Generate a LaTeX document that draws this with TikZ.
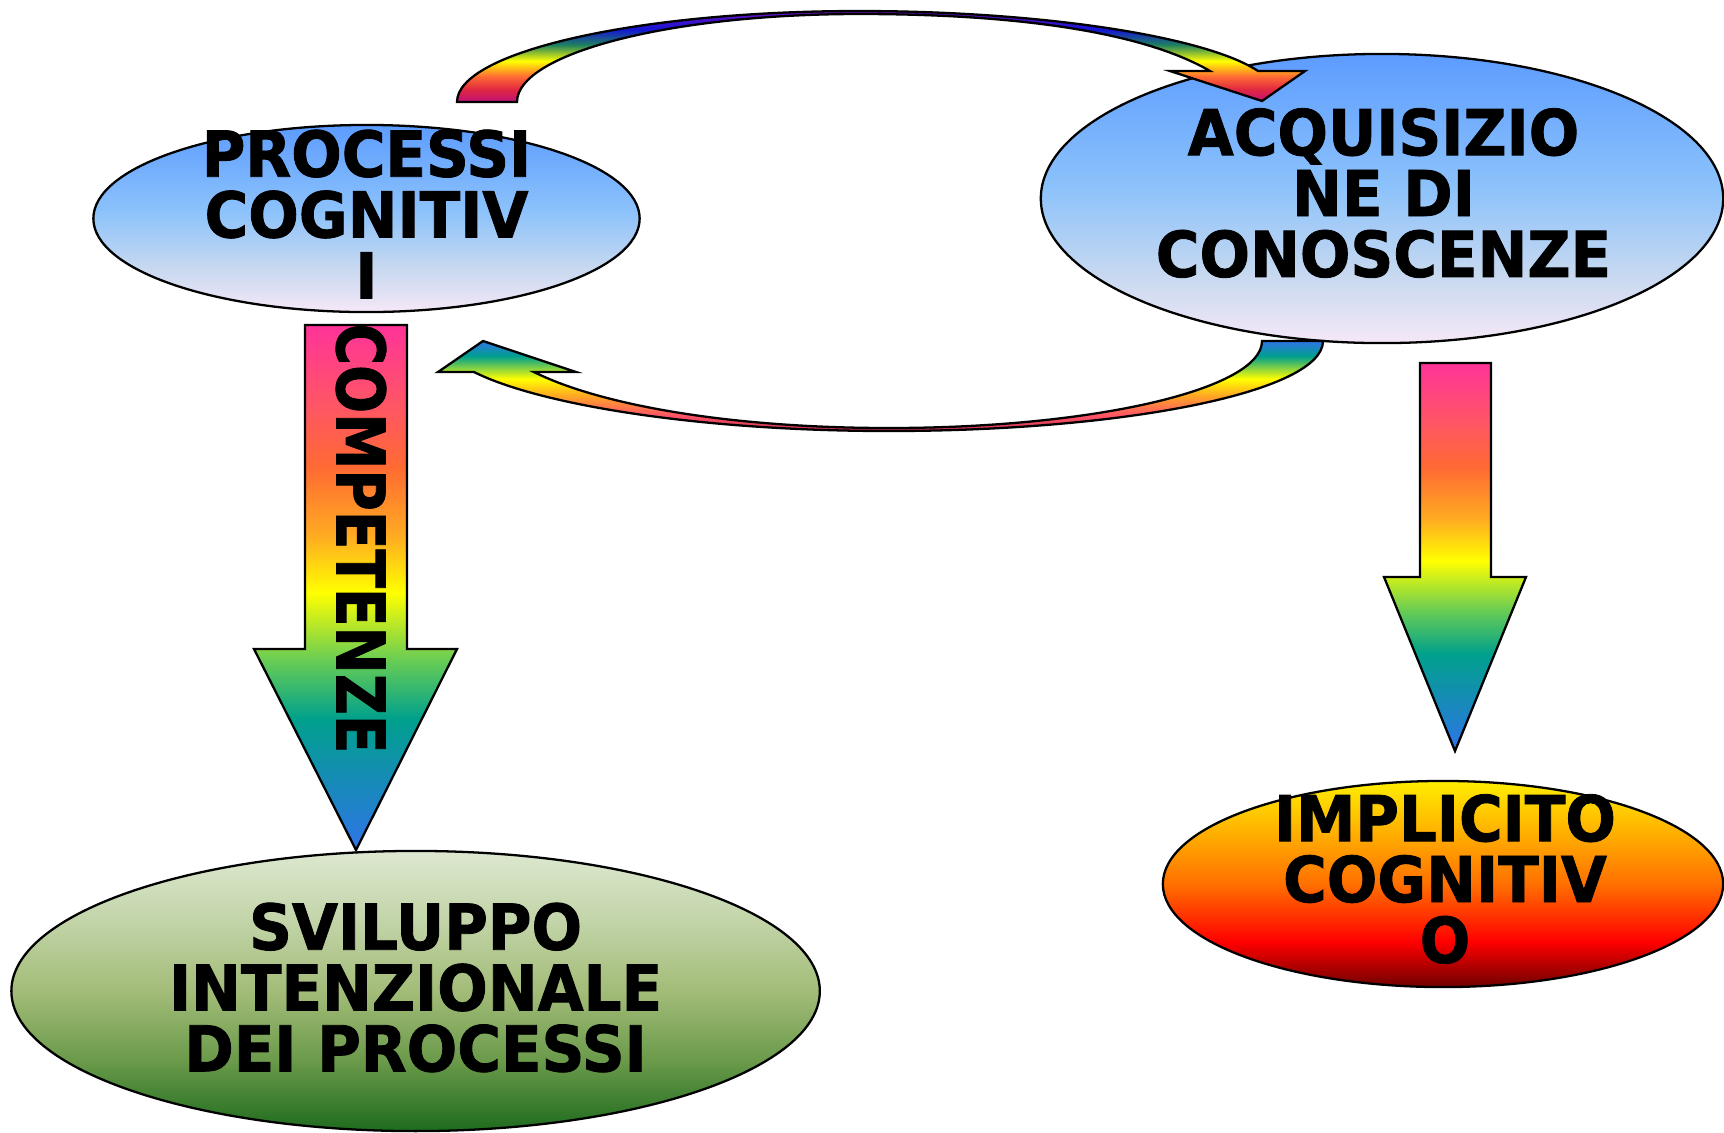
\documentclass[tikz,border=0pt]{standalone}
\usepackage{fontspec}
\usetikzlibrary{shapes.geometric}
\newfontfamily\labelfont{DejaVu Sans}[FakeStretch=0.94,FakeBold=1.3]

% colours of the shadings
\definecolor{skytop}{HTML}{5C9CFF}
\definecolor{skymid}{HTML}{8CC2FB}
\definecolor{skylow2}{HTML}{C6D8F0}
\definecolor{skylow}{HTML}{F5E8F7}
\definecolor{leaftop}{HTML}{DDE8D0}
\definecolor{leafmid2}{HTML}{C2D4A8}
\definecolor{leafmid}{HTML}{A3BC78}
\definecolor{leaflow2}{HTML}{6A9A4A}
\definecolor{leaflow}{HTML}{1E6B1E}
\definecolor{firetop}{HTML}{FFEE00}
\definecolor{firemid2}{HTML}{FFB000}
\definecolor{firemid}{HTML}{FF7000}
\definecolor{firered}{HTML}{FF0000}
\definecolor{firelow2}{HTML}{B00000}
\definecolor{firelow}{HTML}{700000}
\definecolor{rbpink}{HTML}{FF3399}
\definecolor{rbrose}{HTML}{FF5566}
\definecolor{rborange}{HTML}{FF6A33}
\definecolor{rbamber}{HTML}{FFAA22}
\definecolor{rbyellow}{HTML}{FFFF00}
\definecolor{rbgreen}{HTML}{66CC55}
\definecolor{rbteal}{HTML}{00A08C}
\definecolor{rbblue}{HTML}{2F74E8}
\definecolor{rbviolet}{HTML}{7010C0}
\definecolor{rbdeep}{HTML}{1515D5}
\definecolor{rbforest}{HTML}{1E8060}
\definecolor{rbred}{HTML}{E02840}
\definecolor{rbmagenta}{HTML}{C0107A}
\definecolor{rbcrimson}{HTML}{CC3355}

\pgfdeclareverticalshading{sky}{100bp}{color(0bp)=(skylow); color(25bp)=(skylow);
  color(37bp)=(skylow2); color(52bp)=(skymid); color(75bp)=(skytop); color(100bp)=(skytop)}
\pgfdeclareverticalshading{leaf}{100bp}{color(0bp)=(leaflow); color(25bp)=(leaflow);
  color(37.5bp)=(leaflow2); color(50bp)=(leafmid); color(62.5bp)=(leafmid2);
  color(75bp)=(leaftop); color(100bp)=(leaftop)}
\pgfdeclareverticalshading{fire}{100bp}{color(0bp)=(firelow); color(25bp)=(firelow);
  color(30bp)=(firelow2); color(36bp)=(firered); color(50bp)=(firemid);
  color(62.5bp)=(firemid2); color(75bp)=(firetop); color(100bp)=(firetop)}
\pgfdeclareverticalshading{rainbowdown}{100bp}{color(0bp)=(rbblue); color(25bp)=(rbblue);
  color(37.5bp)=(rbteal); color(43bp)=(rbgreen); color(49.5bp)=(rbyellow);
  color(55bp)=(rbamber); color(61.5bp)=(rborange); color(67.5bp)=(rbrose);
  color(75bp)=(rbpink); color(100bp)=(rbpink)}
\pgfdeclareverticalshading{rainbowtop}{100bp}{color(0bp)=(rbmagenta); color(25bp)=(rbmagenta);
  color(32bp)=(rbred); color(39bp)=(rborange); color(47.5bp)=(rbyellow);
  color(56.5bp)=(rbforest); color(65bp)=(rbdeep); color(75bp)=(rbviolet); color(100bp)=(rbviolet)}
\pgfdeclareverticalshading{rainbowbottom}{100bp}{color(0bp)=(rbcrimson); color(25bp)=(rbcrimson);
  color(34bp)=(rbrose); color(45bp)=(rbamber); color(54bp)=(rbyellow);
  color(66.5bp)=(rbteal); color(75bp)=(rbblue); color(100bp)=(rbblue)}

\begin{document}
\begin{tikzpicture}[x=0.01cm,y=-0.01cm,
  blob node/.style={ellipse,draw=black,line width=0.65pt,shade,inner sep=0pt},
  word node/.style={align=center,inner sep=0pt,text=black,
    font=\labelfont\bfseries\fontsize{18}{17.3}\selectfont},
  block arrow/.style={draw=black,line width=0.65pt,shade,shading=rainbowdown},
  bent arrow/.style={draw=black,line width=0.65pt,shade}]

  \path[use as bounding box,fill=white] (0,0) rectangle (1724,1132);

  % ellipses
  \node[blob node,shading=sky,minimum width=5.46cm,minimum height=1.87cm] (proc) at (366.5,218.5) {};
  \node[blob node,shading=sky,minimum width=6.82cm,minimum height=2.89cm] (acq) at (1382,198.5) {};
  \node[blob node,shading=leaf,minimum width=8.08cm,minimum height=2.80cm] (svil) at (415.6,991) {};
  \node[blob node,shading=fire,minimum width=5.60cm,minimum height=2.06cm] (impl) at (1443,884) {};

  % straight arrows
  \path[block arrow] (305,325) -- (407,325) -- (407,649) -- (457,649)
    -- (356,850) -- (254,649) -- (305,649) -- cycle;
  \path[block arrow] (1420,363) -- (1491,363) -- (1491,577) -- (1526,577)
    -- (1455,751) -- (1384,577) -- (1420,577) -- cycle;

  % curved arrows
  \path[bent arrow,shading=rainbowtop] (457,102) .. controls (457,52) and (637,11) .. (859,11)
    .. controls (1040,11) and (1205,36) .. (1258,71)
    -- (1305,71) -- (1262,101) -- (1170,71) -- (1210,71)
    .. controls (1150,36) and (1035,14) .. (859,14)
    .. controls (668,14) and (517,54) .. (517,102) -- cycle;
  \path[bent arrow,shading=rainbowbottom] (1323,341) .. controls (1323,391) and (1129,431) .. (889,431)
    .. controls (700,431) and (540,405) .. (474,372)
    -- (438,372) -- (483,341) -- (576,372) -- (534,372)
    .. controls (600,405) and (730,428) .. (889,428)
    .. controls (1095,428) and (1262,389) .. (1262,341) -- cycle;

  % texts
  \node[word node] (proct) at (366.5,214) {PROCESSI\\COGNITIV\\I};
  \node[word node] (acqt) at (1383.5,193) {ACQUISIZIO\\NE DI\\CONOSCENZE};
  \node[word node] (svilt) at (415.6,987.5) {SVILUPPO\\INTENZIONALE\\DEI PROCESSI};
  \node[word node] (implt) at (1445,879) {IMPLICITO\\COGNITIV\\O};
  \node[word node,font=\labelfont\bfseries\fontsize{19}{19}\selectfont,rotate=-90]
    (comp) at (361,538.5) {\scalebox{0.9}[1]{COMPETENZE}};
\end{tikzpicture}
\end{document}
